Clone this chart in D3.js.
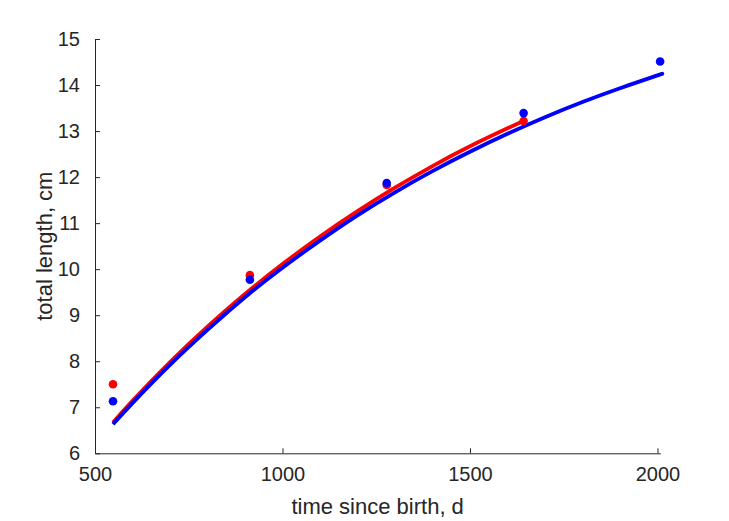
<!DOCTYPE html>
<html>
<head>
<meta charset="utf-8">
<script src="https://cdn.jsdelivr.net/npm/d3@7"></script>
<style>
  html, body { margin: 0; padding: 0; background: #fff; }
  svg { display: block; }
  text { font-family: "Liberation Sans", Arial, Helvetica, sans-serif; fill: #262626; }
</style>
</head>
<body>
<svg id="chart" width="729" height="521"></svg>
<script>
// Observed data (time since birth, days)
const obsDays = [548, 913, 1278, 1643, 2007];
const redObs = [7.50, 9.87, 11.83, 13.22];
const blueObs = [7.13, 9.77, 11.87, 13.39, 14.51];

// Fitted curves
const redCurveDays = [548, 600, 700, 800, 900, 1000, 1100, 1200, 1300, 1400, 1500, 1600, 1643];
const redCurve = [6.67, 7.14, 7.98, 8.75, 9.46, 10.11, 10.71, 11.26, 11.77, 12.24, 12.67, 13.06, 13.22];
const blueCurveDays = [548, 600, 700, 800, 900, 1000, 1100, 1200, 1300, 1400, 1500, 1600, 1700, 1800, 1900, 2000, 2007];
const blueCurve = [6.63, 7.09, 7.92, 8.68, 9.39, 10.03, 10.62, 11.17, 11.67, 12.13, 12.55, 12.94, 13.30, 13.63, 13.93, 14.21, 14.23];

const xTicks = [500, 1000, 1500, 2000];
const yTicks = [6, 7, 8, 9, 10, 11, 12, 13, 14, 15];
const xLabel = "time since birth, d";
const yLabel = "total length, cm";

(function () {
const svg = d3.select("#chart");
const mLeft = 95, mRight = 660.3, mTop = 39, mBottom = 453.3;

const x = d3.scaleLinear().domain([500, 2007.5]).range([mLeft, mRight]);
const y = d3.scaleLinear().domain([6, 15]).range([mBottom, mTop]);

const axisColor = "#262626";

const gx = svg.append("g").attr("transform", `translate(0,${mBottom})`)
  .call(d3.axisBottom(x).tickValues(xTicks).tickSizeInner(-5).tickSizeOuter(0).tickPadding(14).tickFormat(d3.format("d")));
const gy = svg.append("g").attr("transform", `translate(${mLeft},0)`)
  .call(d3.axisLeft(y).tickValues(yTicks).tickSizeInner(-5).tickSizeOuter(0).tickPadding(15).tickFormat(d3.format("d")));

[gx, gy].forEach(g => {
  g.select(".domain").attr("stroke", axisColor).attr("stroke-width", 1);
  g.selectAll(".tick line").attr("stroke", axisColor).attr("stroke-width", 1);
  g.selectAll(".tick text").attr("font-size", 20).attr("fill", axisColor)
    .style("font-family", '"Liberation Sans", Arial, sans-serif');
});

svg.append("text").attr("x", (mLeft + mRight) / 2).attr("y", 514)
  .attr("text-anchor", "middle").attr("font-size", 22).text(xLabel);
svg.append("text").attr("transform", `translate(52,${(mTop + mBottom) / 2}) rotate(-90)`)
  .attr("text-anchor", "middle").attr("font-size", 22).text(yLabel);

const line = d3.line().x(d => x(d[0])).y(d => y(d[1])).curve(d3.curveNatural);

const plot = svg.append("g");

plot.append("path").datum(d3.zip(redCurveDays, redCurve))
  .attr("d", line).attr("fill", "none").attr("stroke", "#ff0000").attr("stroke-width", 3.8);
plot.append("path").datum(d3.zip(blueCurveDays, blueCurve))
  .attr("d", line).attr("fill", "none").attr("stroke", "#0000ff").attr("stroke-width", 3.8);

plot.selectAll("circle.red").data(d3.zip(obsDays.slice(0, redObs.length), redObs)).enter()
  .append("circle").attr("class", "red")
  .attr("cx", d => x(d[0])).attr("cy", d => y(d[1])).attr("r", 4.3).attr("fill", "#ff0000");
plot.selectAll("circle.blue").data(d3.zip(obsDays, blueObs)).enter()
  .append("circle").attr("class", "blue")
  .attr("cx", d => x(d[0])).attr("cy", d => y(d[1])).attr("r", 4.3).attr("fill", "#0000ff");
})();
</script>
</body>
</html>
